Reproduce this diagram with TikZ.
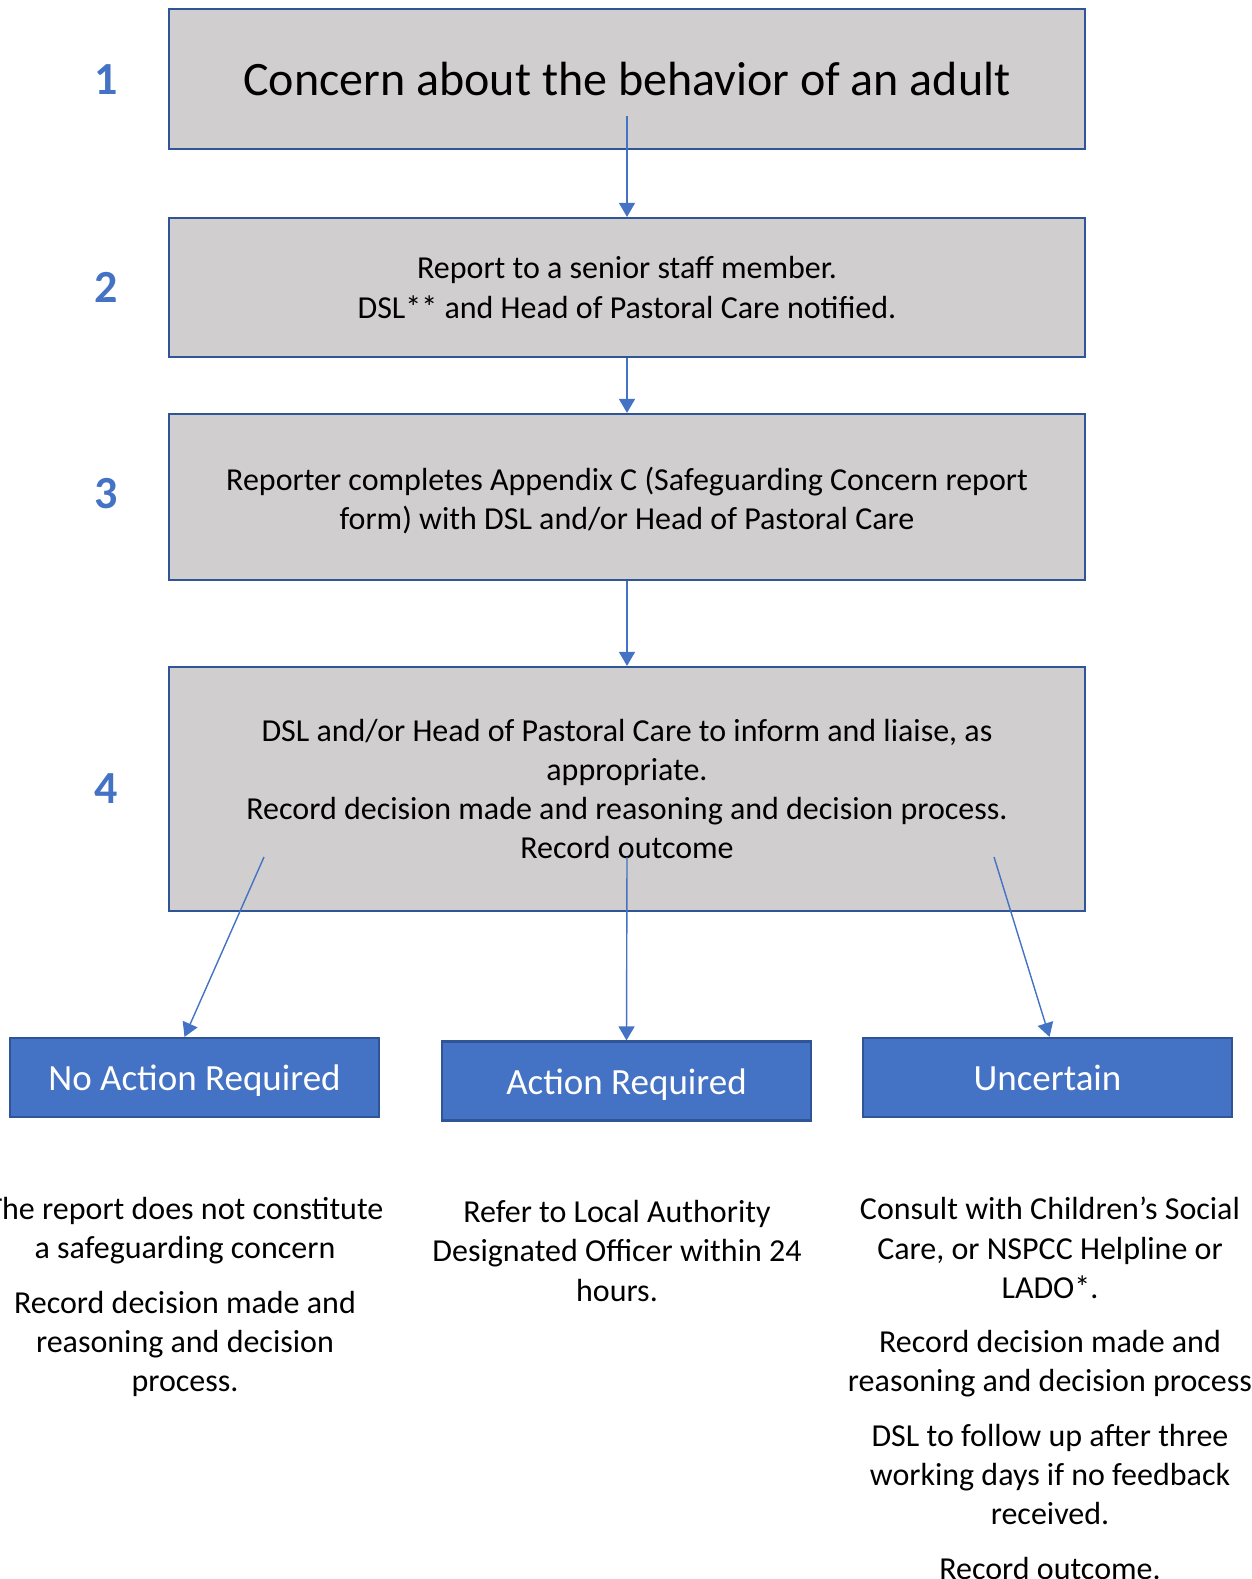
\documentclass[tikz,border=0pt]{standalone}
\usepackage{fontspec}
\setmainfont{Carlito}
\usetikzlibrary{arrows.meta,positioning}
\definecolor{boxgray}{RGB}{208,206,206}
\definecolor{edgeblue}{RGB}{47,85,151}
\definecolor{accblue}{RGB}{68,114,196}
\newcommand{\bodyfont}{\fontsize{32}{39.3}\selectfont}
\tikzset{
  stepbox/.style={draw=edgeblue, fill=boxgray, line width=2.2pt, minimum width=916pt,
                  inner sep=0pt, align=center, font=\bodyfont},
  outbox/.style={draw=edgeblue, fill=accblue, line width=2.2pt, minimum width=369pt,
                 minimum height=79pt, inner sep=0pt, text height=33pt, text depth=7pt,
                 text=white, font=\fontsize{37}{44}\selectfont},
  numlab/.style={font=\fontsize{46}{55}\selectfont\bfseries, text=accblue},
  flow/.style={-{Triangle[length=14pt,width=16pt]}, accblue, line width=1.4pt},
  note/.style={align=center, inner sep=0pt, anchor=north, font=\bodyfont},
}

\begin{document}
\begin{tikzpicture}[x=1pt,y=-1pt]
  \useasboundingbox (0,0) rectangle (1251,1579);
  \node[stepbox, minimum height=140pt, font=\fontsize{48}{58}\selectfont] (concern) at (627,79)
    {Concern about the behavior of an adult};
  \node[stepbox, minimum height=139pt] (report) at (627,287.5)
    {Report to a senior staff member.\\DSL** and Head of Pastoral Care notified.};
  \node[stepbox, minimum height=166pt] (appendix) at (627,497)
    {\rule{0pt}{31pt}Reporter completes Appendix C (Safeguarding Concern report\\form) with DSL and/or Head of Pastoral Care};
  \node[stepbox, minimum height=244pt] (liaise) at (627,789)
    {DSL and/or Head of Pastoral Care to inform and liaise, as\\appropriate.\\Record decision made and reasoning and decision process.\\Record outcome};

  \node[numlab] (n1) at (106,80) {1};
  \node[numlab] (n2) at (106,287) {2};
  \node[numlab] (n3) at (106,494) {3};
  \node[numlab] (n4) at (106,789) {4};

  \node[outbox] (noact) at (194.5,1077.5) {No Action Required};
  \node[outbox] (action) at (626.5,1081) {Action Required};
  \node[outbox] (uncert) at (1047.5,1077.5) {Uncertain};

  \node[note] (noactnote) at (185,1197)
    {The report does not constitute\\a safeguarding concern\\[15pt]Record decision made and\\reasoning and decision\\process.};
  \node[note] (actionnote) at (617,1200)
    {Refer to Local Authority\\Designated Officer within 24\\hours.};
  \node[note] (uncertnote) at (1050,1197)
    {Consult with Children’s Social\\Care, or NSPCC Helpline or\\LADO*.\\[15pt]Record decision made and\\reasoning and decision process\\[15pt]DSL to follow up after three\\working days if no feedback\\received.\\[15pt]Record outcome.};

  \coordinate (c1) at (627,116);
  \coordinate (c4l) at (264,857);
  \coordinate (c4m) at (627,857);
  \coordinate (c4r) at (994,857);
  \draw[flow] (c1) -- (report.north);
  \draw[flow] (report.south) -- (appendix.north);
  \draw[flow] (appendix.south) -- (liaise.north);
  \draw[flow] (c4l) -- ([xshift=-10pt]noact.north);
  \draw[flow] (c4m) -- (action.north);
  \draw[flow] (c4r) -- ([xshift=2pt]uncert.north);
\end{tikzpicture}
\end{document}
